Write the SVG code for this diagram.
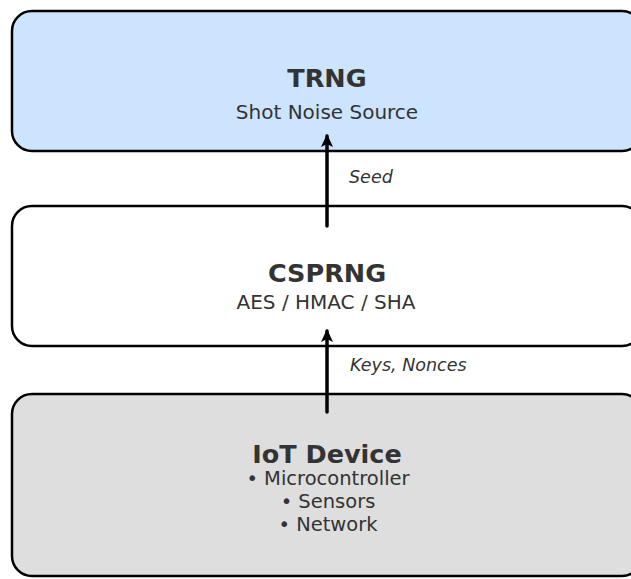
<svg xmlns="http://www.w3.org/2000/svg" width="631" height="579" viewBox="0 0 631 579">
  <defs>
    <style>
      .box { stroke: #000; stroke-width: 2.5; }
      .title { font-family: "DejaVu Sans", sans-serif; font-weight: bold; font-size: 25.5px; fill: #333; text-anchor: middle; }
      .sub { font-family: "DejaVu Sans", sans-serif; font-size: 20px; fill: #333; text-anchor: middle; }
      .item { font-family: "DejaVu Sans", sans-serif; font-size: 19.5px; fill: #333; text-anchor: middle; }
      .edge-label { font-family: "DejaVu Sans", sans-serif; font-style: italic; font-size: 17.5px; fill: #333; }
      .link { stroke: #000; stroke-width: 3.5; stroke-linecap: round; fill: none; }
    </style>
    <marker id="arrowhead" viewBox="0 0 13 13" refX="11" refY="6.5" markerWidth="13" markerHeight="13" markerUnits="userSpaceOnUse" orient="auto">
      <path d="M0,0.5 L13,6.5 L0,12.5 L3,6.5 Z" fill="#000"/>
    </marker>
  </defs>

  <rect width="631" height="579" fill="#fff"/>

  <g id="trng">
    <rect class="box" x="12" y="11" width="630" height="140" rx="20" ry="20" fill="#cce4fd"/>
    <text class="title" x="327" y="87">TRNG</text>
    <text class="sub" x="327" y="119">Shot Noise Source</text>
  </g>

  <g id="csprng">
    <rect class="box" x="12" y="206" width="630" height="140" rx="20" ry="20" fill="#fff"/>
    <text class="title" x="327" y="282">CSPRNG</text>
    <text class="sub" x="326" y="309">AES / HMAC / SHA</text>
  </g>

  <g id="iot-device">
    <rect class="box" x="12" y="394" width="630" height="182" rx="20" ry="20" fill="#dedede"/>
    <text class="title" x="327" y="463">IoT Device</text>
    <text class="item" x="328" y="485">• Microcontroller</text>
    <text class="item" x="328" y="508">• Sensors</text>
    <text class="item" x="328" y="531">• Network</text>
  </g>

  <g id="connectors">
    <line class="link" x1="327" y1="226" x2="327" y2="136" marker-end="url(#arrowhead)"/>
    <text class="edge-label" x="349" y="183">Seed</text>
    <line class="link" x1="327" y1="412" x2="327" y2="331" marker-end="url(#arrowhead)"/>
    <text class="edge-label" x="350" y="371">Keys, Nonces</text>
  </g>
</svg>
